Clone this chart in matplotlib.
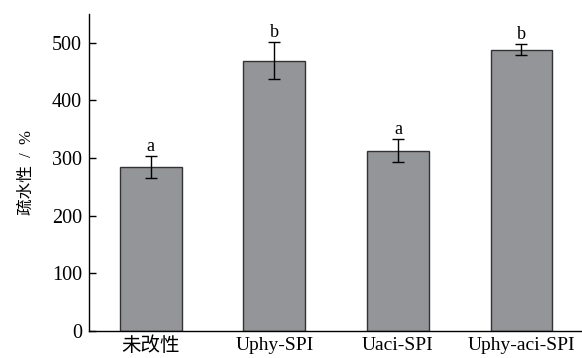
import matplotlib
matplotlib.use("Agg")
import matplotlib.pyplot as plt

# === Data ===
categories = ["未改性", "Uphy-SPI", "Uaci-SPI", "Uphy-aci-SPI"]
values = [285, 469, 313, 488]
errors = [19, 32, 20, 10]
letters = ["a", "b", "a", "b"]

plt.rcParams['font.family'] = ['Liberation Serif', 'Noto Sans CJK SC']

fig = plt.figure(figsize=(5.82, 3.58), dpi=100)
ax = fig.add_axes([0.153, 0.075, 0.847, 0.886])

x = list(range(len(categories)))
ax.bar(x, values, width=0.5, color="#939598", edgecolor="#333333", linewidth=1.0,
       yerr=errors, error_kw=dict(ecolor="black", elinewidth=1.0, capsize=4, capthick=1.0))

for xi, v, e, lab in zip(x, values, errors, letters):
    ax.text(xi, v + e + 2, lab, ha="center", va="bottom", fontsize=13)

ax.set_xlim(-0.5, 3.49)
ax.set_ylim(0, 550)
ax.set_yticks([0, 100, 200, 300, 400, 500])
ax.set_xticks(x)
ax.set_xticklabels(categories, fontsize=14)
ax.tick_params(axis="y", direction="in", length=5, labelsize=14.5, width=1, pad=5)
ax.tick_params(axis="x", length=0, pad=4)
ax.set_ylabel("疏水性  /  %", fontsize=12)
ax.yaxis.set_label_coords(-0.11, 0.5)

for s in ["top", "right"]:
    ax.spines[s].set_visible(False)
for s in ["left", "bottom"]:
    ax.spines[s].set_linewidth(1.0)

fig.savefig("out.png", dpi=100)
